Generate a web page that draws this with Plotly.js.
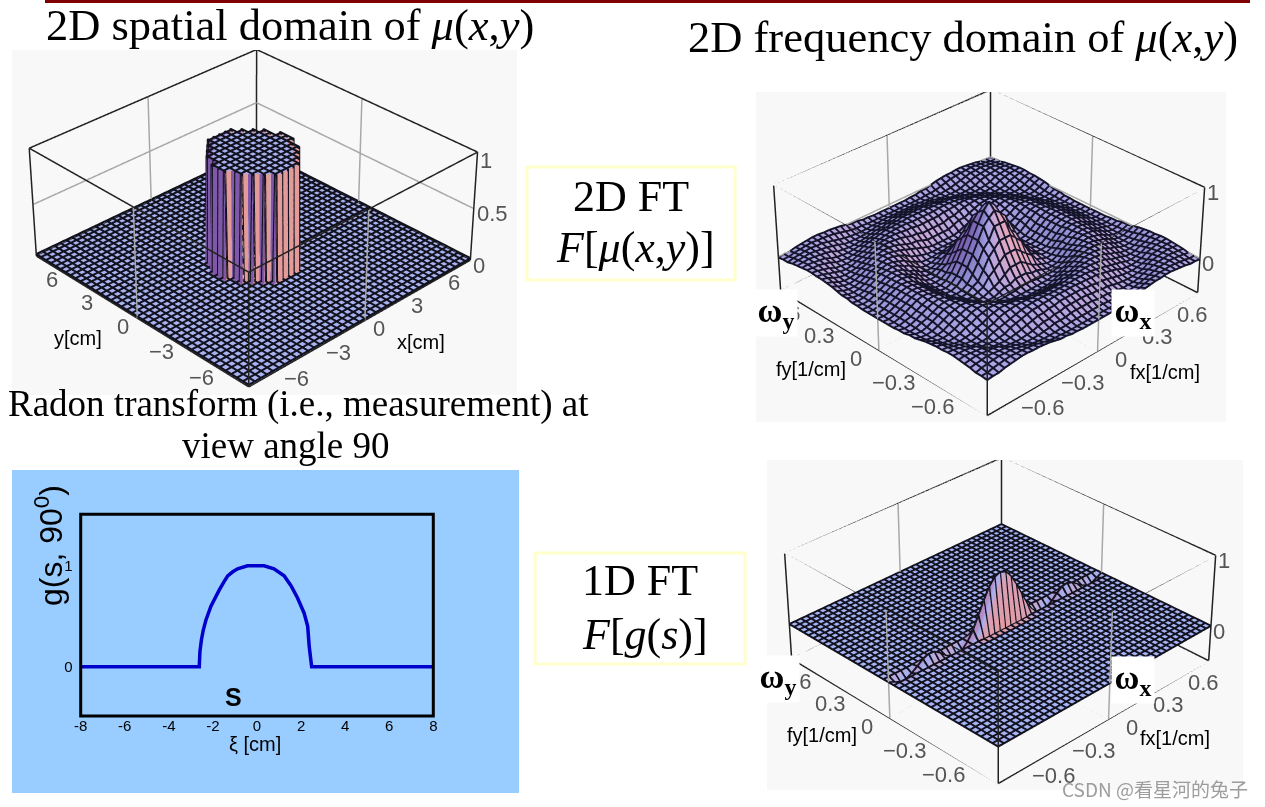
<!DOCTYPE html>
<html><head><meta charset="utf-8">
<script src="https://cdn.plot.ly/plotly-3.0.1.min.js"></script>
<style>html,body{margin:0;padding:0;background:#fff}#stage{position:relative;width:1265px;height:807px;overflow:hidden}
#g{position:absolute;left:0;top:0;width:1265px;height:807px;z-index:5}
.panel{position:absolute;overflow:hidden;background:#f8f8f8}.panel>div{position:absolute}</style></head>
<body><div id="stage"><div id="g"></div></div>
<script>
// ---------- values ----------
const projectionS = [-8,-2.62,-2.59,-2.56,-2.52,-2.44,-2.32,-2.09,-1.9,-1.71,-1.5,-1.33,-1.1,-0.88,-0.43,0.32,0.77,1.0,1.23,1.55,1.84,2.14,2.3,2.37,2.42,2.45,2.48,8];
const projectionG = [0,0,0.15,0.22,0.27,0.36,0.46,0.6,0.69,0.76,0.84,0.9,0.94,0.97,1,1,0.97,0.94,0.9,0.8,0.68,0.53,0.4,0.2,0.1,0,0,0];
const sTicks = [-8,-6,-4,-2,0,2,4,6,8];
const sTickText = ['-8','-6','-4','-2','0','2','4','6','8'];
const cylinderHalfWidth = [6,6,5,5,4,3,2];
const spectrumRadial = [.78,.76,.7,.63,.55,.47,.39,.31,.23,.16,.09,.03,-.03,-.07,-.1,-.12,-.13,-.13,-.12,-.1,-.07,-.04,-.01,.02,.05,.07,.08,.09,.09,.08,.07,.05,.03,.01,-.01,-.03,-.05,-.06,-.07,-.07,-.06,-.05,-.03,-.01,.01,.02,.03,.03,.04,.04,.03,.02,.01,0,-.01,-.01,-.02,-.02];
const ridgeValues = [.75,.72,.62,.47,.3,.13,0,-.08,-.11,-.09,-.04,.04,.1,.11,.08,.02,-.04,-.08,-.08,-.04,0];
const spaceAxis = [-7.5,7.5], freqAxis = [-0.75,0.75];
const spaceTicks = [-6,-3,0,3,6], freqTicks = [-0.6,-0.3,0,0.3,0.6];
const CELLS = 40;

const coords = (r,n) => Array.from({length:n},(_,i)=>r[0]+(r[1]-r[0])*i/(n-1));
// the cylinder uses 4 samples per mesh cell so that its wall stays steep
const cyl=[],spec=[],ridge=[];
const NF=CELLS*4+1;
for(let j=0;j<NF;j++){const a=[];
  for(let i=0;i<NF;i++){const di=Math.abs(i-CELLS*2)/4,dj=Math.round(Math.abs(j-CELLS*2)/4);
    a.push(dj<cylinderHalfWidth.length&&di<=cylinderHalfWidth[dj]?1:0);} cyl.push(a);}
const NC=CELLS+1,C=CELLS/2;
for(let j=0;j<NC;j++){const b=[],c=[];
  for(let i=0;i<NC;i++){const di=Math.abs(i-C),dj=Math.abs(j-C);
    b.push(spectrumRadial[Math.min(spectrumRadial.length-1,Math.round(2*Math.hypot(di,dj)))]);
    c.push(dj===0?ridgeValues[di]:0);} spec.push(b);ridge.push(c);}
function slope(z,tie){const n=z.length;return z.map((row,j)=>row.map((_,i)=>{
  const l=z[j][Math.max(i-1,0)],r=z[j][Math.min(i+1,n-1)],d=z[Math.max(j-1,0)][i],u=z[Math.min(j+1,n-1)][i];
  const v=(r-l)-(u-d); return tie&&v===0&&(r!==l||u!==d)?tie:v;}));}
const scaleCyl=[[0,'#e29b98'],[0.47,'#e29b98'],[0.5,'#a3b3f5'],[0.53,'#7f58aa'],[1,'#7f58aa']];
const scaleSpec=[[0,'#e8a8b8'],[0.3,'#cca8d4'],[0.5,'#aca4e4'],[0.7,'#8c88cc'],[1,'#7a60b0']];
const scaleRidge=[[0,'#e89a98'],[0.42,'#d8a0b8'],[0.5,'#a3b3f5'],[0.56,'#b890c8'],[1,'#8a62b0']];

function surf(xr,z,scale,lim,tie){
  const n=z.length,x=coords(xr,n),y=coords(xr,n);
  return {type:'surface',x,y,z,surfacecolor:slope(z,tie),colorscale:scale,cmin:-lim,cmax:lim,showscale:false,hoverinfo:'skip',
    lighting:{ambient:1,diffuse:0,specular:0,roughness:1,fresnel:0},
    contours:{x:{show:false,highlight:false},y:{show:false,highlight:false},z:{show:false,highlight:false}}};
}
// dark wire mesh laid just above the surface, one polyline per mesh row and column
function mesh(xr,z,lift,color,width){
  const n=z.length,step=(n-1)/CELLS,c=coords(xr,n),X=[],Y=[],Z=[];
  for(let k=0;k<n;k+=step){
    for(let i=0;i<n;i++){X.push(c[i]);Y.push(c[k]);Z.push(z[k][i]+lift);} X.push(null);Y.push(null);Z.push(null);
    for(let i=0;i<n;i++){X.push(c[k]);Y.push(c[i]);Z.push(z[i][k]+lift);} X.push(null);Y.push(null);Z.push(null);
  }
  return {type:'scatter3d',mode:'lines',x:X,y:Y,z:Z,line:{color,width},hoverinfo:'skip',showlegend:false,connectgaps:false};
}
function frame(xr,zr,zGrid,floorGrid){
  const [a,b]=xr,[z0,z1]=zr,X=[],Y=[],Z=[],gx=[],gy=[],gz=[],m=0;
  const seg=(A,p,q)=>{A[0].push(p[0],q[0],null);A[1].push(p[1],q[1],null);A[2].push(p[2],q[2],null);};
  const K=[X,Y,Z],G=[gx,gy,gz];
  for(const z of [z0,z1]){seg(K,[a,a,z],[b,a,z]);seg(K,[b,a,z],[b,b,z]);seg(K,[b,b,z],[a,b,z]);seg(K,[a,b,z],[a,a,z]);}
  for(const [p,q] of [[a,a],[a,b],[b,a],[b,b]]) seg(K,[p,q,z0],[p,q,z1]);
  for(const z of zGrid){seg(G,[a,b,z],[b,b,z]);seg(G,[b,a,z],[b,b,z]);}
  for(const w of [a,b]){seg(G,[m,w,z0],[m,w,z1]);seg(G,[w,m,z0],[w,m,z1]);}
  if(floorGrid){seg(G,[m,a,z0],[m,b,z0]);seg(G,[a,m,z0],[b,m,z0]);}
  const l=(x,y,z,color,width)=>({type:'scatter3d',mode:'lines',x,y,z,line:{color,width},hoverinfo:'skip',showlegend:false,connectgaps:false});
  return [l(gx,gy,gz,'#a8a8a8',3),l(X,Y,Z,'#222222',3)];
}
const LF={family:'Liberation Sans',size:22,color:'#555555'};
function labels(xr,z0,ticks,zt,xs0,xs1,zx){
  const [a,b]=xr,out=[],tm=ticks[ticks.length-1];
  const fmt=t=>String(t).replace('-','\u2212');
  for(const t of ticks){
    const xs=xs0-xs1*(t/tm), ys=-(8+3*(t/tm));
    out.push({x:t,y:a,z:z0,text:fmt(t),showarrow:false,xshift:xs,yshift:ys,font:LF});
    out.push({x:a,y:t,z:z0,text:fmt(t),showarrow:false,xshift:-xs,yshift:ys,font:LF});
  }
  for(const t of zt) out.push({x:b,y:a,z:t,text:String(t),showarrow:false,xshift:zx,yshift:-5,font:LF,xanchor:'left'});
  return out;
}
const EYE1={x:-3.81,y:-3.946,z:3.30}, EYE2={x:-3.85,y:-3.91,z:3.30};
function panel(box,centre,size,traces,xr,zr,az,eye,anns){
  const w=document.createElement('div');w.className='panel';
  Object.assign(w.style,{left:box[0]+'px',top:box[1]+'px',width:(box[2]-box[0])+'px',height:(box[3]-box[1])+'px'});
  const d=document.createElement('div');
  Object.assign(d.style,{left:(centre[0]-box[0]-size/2)+'px',top:(centre[1]-box[1]-size/2)+'px',width:size+'px',height:size+'px'});
  w.appendChild(d);document.getElementById('stage').appendChild(w);
  const ax=r=>({visible:false,range:r,autorange:false});
  Plotly.newPlot(d,traces,{width:size,height:size,margin:{l:0,r:0,t:0,b:0},paper_bgcolor:'rgba(0,0,0,0)',showlegend:false,
    scene:{domain:{x:[0,1],y:[0,1]},bgcolor:'#f8f8f8',xaxis:ax(xr),yaxis:ax(xr),zaxis:ax(zr),aspectmode:'manual',aspectratio:{x:1,y:1,z:az},
      camera:{eye,center:{x:0,y:0,z:0},up:{x:0,y:0,z:1},projection:{type:'perspective'}},annotations:anns}},{displayModeBar:false});
}
panel([12,50,517,395],[252.7,205],1654,[surf(spaceAxis,cyl,scaleCyl,1,-0.3),mesh(spaceAxis,cyl,0.02,'#12121e',4),...frame(spaceAxis,[0,1.03],[0.5],false)],spaceAxis,[0,1.03],0.404,EYE1,labels(spaceAxis,0,spaceTicks,[0,0.5,1],14,10,1));
panel([756,92,1226,422],[989,240],1590,[surf(freqAxis,spec,scaleSpec,0.4,0),mesh(freqAxis,spec,0.008,'#14142a',4),...frame(freqAxis,[-0.5,1],[0],true)],freqAxis,[-0.5,1],0.41,EYE2,labels(freqAxis,-0.5,freqTicks,[0,1],23,9,0));
panel([767,460,1243,790],[1000,608],1590,[surf(freqAxis,ridge,scaleRidge,1,0),mesh(freqAxis,ridge,0.008,'#12121e',4),...frame(freqAxis,[-0.5,1],[0],true)],freqAxis,[-0.5,1],0.41,EYE2,labels(freqAxis,-0.5,freqTicks,[0,1],23,9,0));

const px=x=>x/1265, py=y=>1-y/807;
const T=(x,y,text,size,extra={})=>Object.assign({xref:'paper',yref:'paper',x:px(x),y:py(y),text,showarrow:false,
  font:{family:'Liberation Serif',size,color:'#000'},xanchor:'center',yanchor:'middle'},extra);
const S=(x,y,text,size,extra={})=>{const o=T(x,y,text,size,extra);o.font.family='Liberation Sans';return o;};
const OM=(x,y,text)=>T(x,y,text,34,{bgcolor:'#fff',width:40,height:44});
const layout={width:1265,height:807,margin:{l:0,r:0,t:0,b:0},paper_bgcolor:'rgba(0,0,0,0)',plot_bgcolor:'#99ccff',showlegend:false,
  xaxis:{domain:[px(80.7),px(433.3)],range:[-8,8],tickvals:sTicks,ticktext:sTickText,ticklen:0,ticklabelstandoff:-1,showgrid:false,zeroline:false,showline:false,tickfont:{family:'Liberation Sans',size:15,color:'#000'}},
  yaxis:{domain:[py(716),py(514.3)],range:[-0.488,1.509],tickvals:[0,1],ticklen:0,ticklabelstandoff:7,showgrid:false,zeroline:false,showline:false,tickfont:{family:'Liberation Sans',size:15,color:'#000'}},
  shapes:[
    {type:'rect',xref:'paper',yref:'paper',x0:px(12),x1:px(519),y0:py(793),y1:py(470),fillcolor:'#99ccff',line:{width:0},layer:'below'},
    {type:'rect',xref:'paper',yref:'paper',x0:px(80.7),x1:px(433.3),y0:py(716),y1:py(514.3),line:{color:'#000',width:3}},
    {type:'rect',xref:'paper',yref:'paper',x0:px(45),x1:px(1250),y0:py(3),y1:py(0),fillcolor:'#800000',line:{width:0}},
    {type:'rect',xref:'paper',yref:'paper',x0:px(527),x1:px(735),y0:py(280),y1:py(167),line:{color:'#ffffcc',width:3}},
    {type:'rect',xref:'paper',yref:'paper',x0:px(535),x1:px(745),y0:py(664),y1:py(553),line:{color:'#ffffcc',width:3}}
  ],
  annotations:[
    T(290,25,'2D spatial domain of <i>μ</i>(<i>x</i>,<i>y</i>)',44.5),
    T(963,37,'2D frequency domain of <i>μ</i>(<i>x</i>,<i>y</i>)',44.5),
    T(298,404,'Radon transform (i.e., measurement) at',37),
    T(286,445,'view angle 90',37),
    T(631,196,'2D FT',44),
    T(635,248,'<i>F</i>[<i>μ</i>(<i>x</i>,<i>y</i>)]',44),
    T(640,580,'1D FT',44),
    T(645,634,'<i>F</i>[<i>g</i>(<i>s</i>)]',44),
    S(78,338,'y[cm]',20),S(421,342,'x[cm]',20),
    S(811,369,'fy[1/cm]',20),S(1165,372,'fx[1/cm]',20),
    S(822,735,'fy[1/cm]',20),S(1175,738,'fx[1/cm]',20),
    S(49,546,'g(s, 90<sup>0</sup>)',32,{textangle:-90}),
    S(234,697,'<b>S</b>',25),
    S(255,744,'ξ [cm]',20),
    OM(776,313,'<b>ω<sub>y</sub></b>'),
    OM(1133,313,'<b>ω<sub>x</sub></b>'),
    OM(778,679,'<b>ω<sub>y</sub></b>'),
    OM(1133,680,'<b>ω<sub>x</sub></b>'),
    T(1155,788,'CSDN @看星河的兔子',19,{font:{family:'Noto Sans CJK SC',size:19,color:'rgba(140,140,140,0.85)'}})
  ]
};
Plotly.newPlot('g',[{type:'scatter',x:projectionS,y:projectionG,mode:'lines',line:{color:'#0000cc',width:3.5},hoverinfo:'skip',showlegend:false}],layout,{displayModeBar:false});
</script></body></html>
